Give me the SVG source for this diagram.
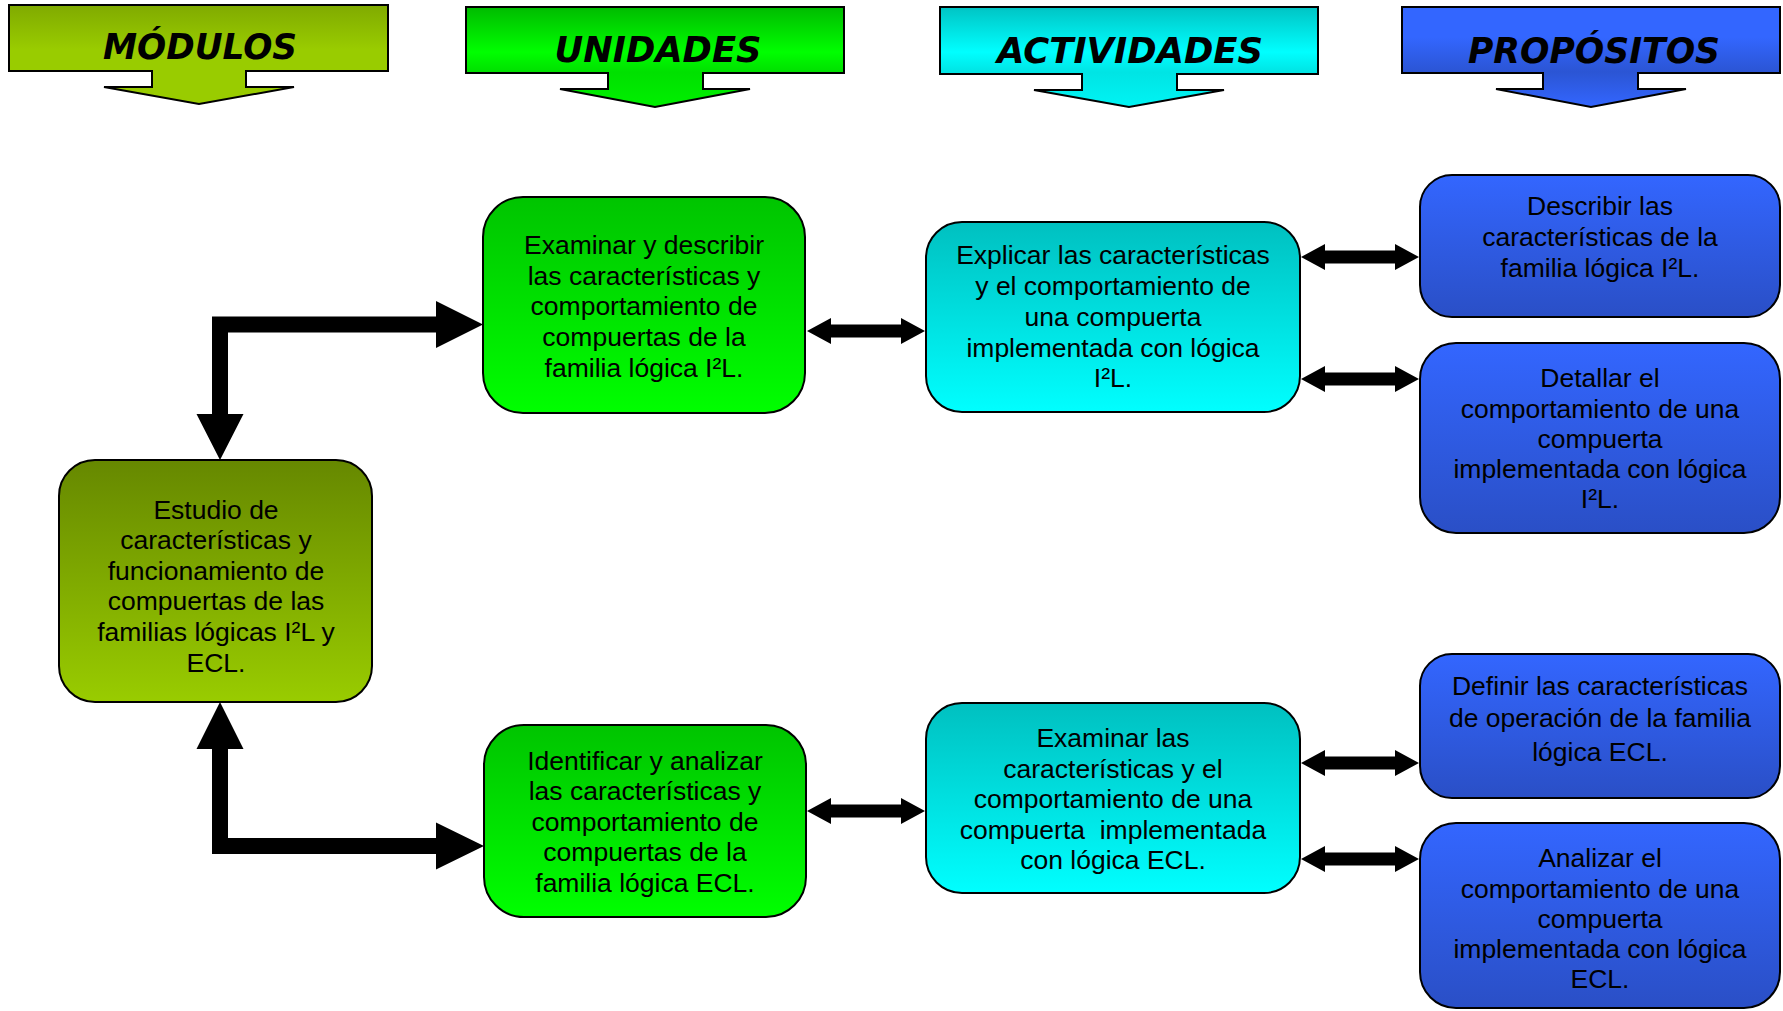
<svg xmlns="http://www.w3.org/2000/svg" width="1783" height="1011" viewBox="0 0 1783 1011">
  <defs>
    <linearGradient id="gMod" x1="0" y1="0" x2="0" y2="1">
      <stop offset="0" stop-color="#668800"/>
      <stop offset="1" stop-color="#99cc00"/>
    </linearGradient>
    <linearGradient id="gUni" x1="0" y1="0" x2="0" y2="1">
      <stop offset="0" stop-color="#00c400"/>
      <stop offset="1" stop-color="#00ff00"/>
    </linearGradient>
    <linearGradient id="gAct" x1="0" y1="0" x2="0" y2="1">
      <stop offset="0" stop-color="#00c0c0"/>
      <stop offset="1" stop-color="#00ffff"/>
    </linearGradient>
    <linearGradient id="gPro" x1="0" y1="0" x2="0" y2="1">
      <stop offset="0" stop-color="#3366ff"/>
      <stop offset="1" stop-color="#2a4fc6"/>
    </linearGradient>
    <linearGradient id="hMod" x1="0" y1="0" x2="0" y2="1">
      <stop offset="0" stop-color="#80aa00"/>
      <stop offset="0.45" stop-color="#99cc00"/>
      <stop offset="1" stop-color="#99cc00"/>
    </linearGradient>
    <linearGradient id="hUni" x1="0" y1="0" x2="0" y2="1">
      <stop offset="0" stop-color="#00bb00"/>
      <stop offset="0.45" stop-color="#00ff00"/>
      <stop offset="0.65" stop-color="#00e000"/>
      <stop offset="1" stop-color="#00f000"/>
    </linearGradient>
    <linearGradient id="hAct" x1="0" y1="0" x2="0" y2="1">
      <stop offset="0" stop-color="#00c4c4"/>
      <stop offset="0.45" stop-color="#00ffff"/>
      <stop offset="0.65" stop-color="#00e4e4"/>
      <stop offset="1" stop-color="#00f4f4"/>
    </linearGradient>
    <linearGradient id="hPro" x1="0" y1="0" x2="0" y2="1">
      <stop offset="0" stop-color="#3366ff"/>
      <stop offset="0.3" stop-color="#3366ff"/>
      <stop offset="0.65" stop-color="#2b55d4"/>
      <stop offset="1" stop-color="#3366ff"/>
    </linearGradient>
  </defs>
  <style>
    .node { stroke: #000; stroke-width: 2; }
    .hdr { stroke: #000; stroke-width: 2; stroke-linejoin: miter; }
    .t { font-family: "Liberation Sans", Arial, sans-serif; font-size: 26.5px; fill: #000; text-anchor: middle; }
    .ht { font-family: "DejaVu Sans", sans-serif; font-size: 35px; font-weight: bold; font-style: italic; fill: #000; text-anchor: middle; }
    .conn { fill: #000; stroke: none; }
  </style>
  <rect width="1783" height="1011" fill="#ffffff"/>

  <!-- Headers -->
  <g id="header-modulos">
    <path class="hdr" fill="url(#hMod)" d="M9,5 H388 V71 H246 V87 H294 L199,104 L104,87 H152 V71 H9 Z"/>
    <text class="ht" x="200" y="59" textLength="194" lengthAdjust="spacingAndGlyphs">MÓDULOS</text>
  </g>
  <g id="header-unidades">
    <path class="hdr" fill="url(#hUni)" d="M466,7 H844 V73 H703 V89 H750 L655,107 L560,89 H608 V73 H466 Z"/>
    <text class="ht" x="658" y="62" textLength="207" lengthAdjust="spacingAndGlyphs">UNIDADES</text>
  </g>
  <g id="header-actividades">
    <path class="hdr" fill="url(#hAct)" d="M940,7 H1318 V74 H1177 V90 H1224 L1129,107 L1034,90 H1082 V74 H940 Z"/>
    <text class="ht" x="1130" y="63" textLength="266" lengthAdjust="spacingAndGlyphs">ACTIVIDADES</text>
  </g>
  <g id="header-propositos">
    <path class="hdr" fill="url(#hPro)" d="M1402,7 H1780 V73 H1638 V89 H1686 L1591,107 L1496,89 H1543 V73 H1402 Z"/>
    <text class="ht" x="1594" y="63" textLength="252" lengthAdjust="spacingAndGlyphs">PROPÓSITOS</text>
  </g>

  <!-- Connectors -->
  <g id="connectors">
    <path class="conn" d="M483,324.5 L436,301 V316.5 H212 V414 H196.5 L220,460 L243.5,414 H228 V332.5 H436 V348 Z"/>
    <path class="conn" d="M484,846 L436,822.5 V838 H228 V749 H243.5 L220,702 L196.5,749 H212 V854 H436 V869.5 Z"/>
    <path class="conn" d="M807,331 L831,318 V324.5 H901 V318 L925,331 L901,344 V337.5 H831 V344 Z"/>
    <path class="conn" d="M807,811 L831,798 V804.5 H901 V798 L925,811 L901,824 V817.5 H831 V824 Z"/>
    <path class="conn" d="M1301,257 L1325,244 V250.5 H1395 V244 L1419,257 L1395,270 V263.5 H1325 V270 Z"/>
    <path class="conn" d="M1301,379 L1325,366 V372.5 H1395 V366 L1419,379 L1395,392 V385.5 H1325 V392 Z"/>
    <path class="conn" d="M1301,763 L1325,750 V756.5 H1395 V750 L1419,763 L1395,776 V769.5 H1325 V776 Z"/>
    <path class="conn" d="M1301,859 L1325,846 V852.5 H1395 V846 L1419,859 L1395,872 V865.5 H1325 V872 Z"/>
  </g>

  <!-- Module node -->
  <g id="modulo">
    <rect class="node" x="59" y="460" width="313" height="242" rx="36" fill="url(#gMod)"/>
    <text class="t" x="216"><tspan x="216" y="518.5">Estudio de</tspan><tspan x="216" y="549">características y</tspan><tspan x="216" y="579.5">funcionamiento de</tspan><tspan x="216" y="610">compuertas de las</tspan><tspan x="216" y="641">familias lógicas I²L y</tspan><tspan x="216" y="671.5">ECL.</tspan></text>
  </g>

  <!-- Unit nodes -->
  <g id="unidad-1">
    <rect class="node" x="483" y="197" width="322" height="216" rx="40" fill="url(#gUni)"/>
    <text class="t"><tspan x="644" y="254">Examinar y describir</tspan><tspan x="644" y="284.5">las características y</tspan><tspan x="644" y="315">comportamiento de</tspan><tspan x="644" y="346">compuertas de la</tspan><tspan x="644" y="376.5">familia lógica I²L.</tspan></text>
  </g>
  <g id="unidad-2">
    <rect class="node" x="484" y="725" width="322" height="192" rx="40" fill="url(#gUni)"/>
    <text class="t"><tspan x="645" y="769.5">Identificar y analizar</tspan><tspan x="645" y="800">las características y</tspan><tspan x="645" y="830.5">comportamiento de</tspan><tspan x="645" y="861">compuertas de la</tspan><tspan x="645" y="891.5">familia lógica ECL.</tspan></text>
  </g>

  <!-- Activity nodes -->
  <g id="actividad-1">
    <rect class="node" x="926" y="222" width="374" height="190" rx="36" fill="url(#gAct)"/>
    <text class="t"><tspan x="1113" y="264">Explicar las características</tspan><tspan x="1113" y="295">y el comportamiento de</tspan><tspan x="1113" y="325.5">una compuerta</tspan><tspan x="1113" y="356.5">implementada con lógica</tspan><tspan x="1113" y="387">I²L.</tspan></text>
  </g>
  <g id="actividad-2">
    <rect class="node" x="926" y="703" width="374" height="190" rx="36" fill="url(#gAct)"/>
    <text class="t" xml:space="preserve"><tspan x="1113" y="747">Examinar las</tspan><tspan x="1113" y="777.5">características y el</tspan><tspan x="1113" y="808">comportamiento de una</tspan><tspan x="1113" y="839">compuerta  implementada</tspan><tspan x="1113" y="869">con lógica ECL.</tspan></text>
  </g>

  <!-- Purpose nodes -->
  <g id="proposito-1">
    <rect class="node" x="1420" y="175" width="360" height="142" rx="32" fill="url(#gPro)"/>
    <text class="t"><tspan x="1600" y="215">Describir las</tspan><tspan x="1600" y="246">características de la</tspan><tspan x="1600" y="277">familia lógica I²L.</tspan></text>
  </g>
  <g id="proposito-2">
    <rect class="node" x="1420" y="343" width="360" height="190" rx="36" fill="url(#gPro)"/>
    <text class="t"><tspan x="1600" y="387">Detallar el</tspan><tspan x="1600" y="417.5">comportamiento de una</tspan><tspan x="1600" y="447.5">compuerta</tspan><tspan x="1600" y="478">implementada con lógica</tspan><tspan x="1600" y="508">I²L.</tspan></text>
  </g>
  <g id="proposito-3">
    <rect class="node" x="1420" y="654" width="360" height="144" rx="32" fill="url(#gPro)"/>
    <text class="t"><tspan x="1600" y="695">Definir las características</tspan><tspan x="1600" y="727">de operación de la familia</tspan><tspan x="1600" y="761">lógica ECL.</tspan></text>
  </g>
  <g id="proposito-4">
    <rect class="node" x="1420" y="823" width="360" height="185" rx="36" fill="url(#gPro)"/>
    <text class="t"><tspan x="1600" y="867">Analizar el</tspan><tspan x="1600" y="897.5">comportamiento de una</tspan><tspan x="1600" y="927.5">compuerta</tspan><tspan x="1600" y="958">implementada con lógica</tspan><tspan x="1600" y="988">ECL.</tspan></text>
  </g>
</svg>
